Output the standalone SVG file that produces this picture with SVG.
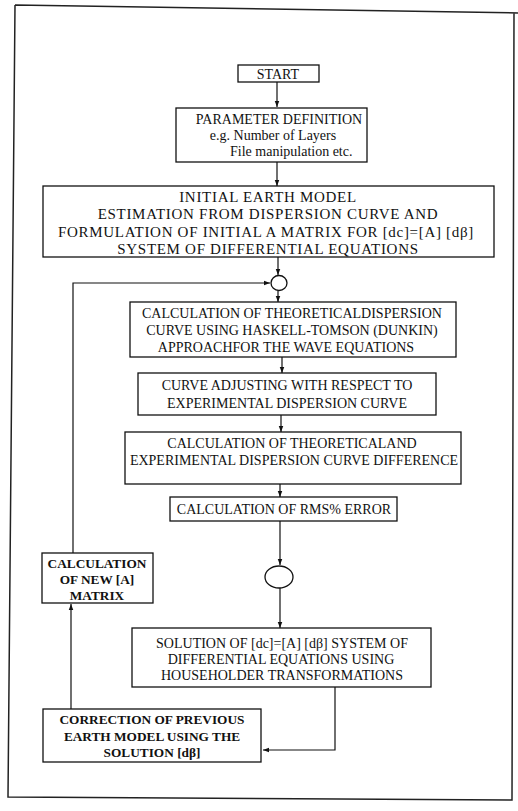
<svg xmlns="http://www.w3.org/2000/svg" width="518" height="811" viewBox="0 0 518 811">
<defs>
<marker id="ah" viewBox="0 0 8 8" refX="8" refY="4" markerWidth="6" markerHeight="6" orient="auto-start-reverse" markerUnits="userSpaceOnUse">
<path d="M0,1 L8,4 L0,7 Z" fill="#111"/>
</marker>
<style>
rect, ellipse { fill: #fff; stroke: #111; stroke-width: 1.3; }
.c { fill: none; stroke: #111; stroke-width: 1.2; }
text { font-family: "Liberation Serif", "Times New Roman", serif; font-size: 14px; fill: #111; text-anchor: middle; }
.big { font-size: 15px; letter-spacing: 0.7px; }
.b { font-weight: bold; font-size: 13.3px; }
.frame { fill: none; stroke: #222; stroke-width: 1.5; }
</style>
</defs>
<rect width="518" height="811" style="fill:#fff;stroke:none"/>
<path class="frame" d="M15,5 L518,13 M514,13 L512,800 L8,797 L15,5"/>

<g id="connectors">
<line class="c" x1="277" y1="82" x2="277" y2="107" marker-end="url(#ah)"/>
<line class="c" x1="277" y1="162" x2="277" y2="186" marker-end="url(#ah)"/>
<line class="c" x1="278" y1="257" x2="278" y2="275" marker-end="url(#ah)"/>
<line class="c" x1="278" y1="291" x2="278" y2="302" marker-end="url(#ah)"/>
<line class="c" x1="282" y1="357" x2="282" y2="373" marker-end="url(#ah)"/>
<line class="c" x1="281" y1="415" x2="281" y2="432" marker-end="url(#ah)"/>
<line class="c" x1="280" y1="484" x2="280" y2="497" marker-end="url(#ah)"/>
<line class="c" x1="280" y1="521" x2="280" y2="565" marker-end="url(#ah)"/>
<line class="c" x1="280" y1="588" x2="280" y2="628" marker-end="url(#ah)"/>
<polyline class="c" points="335,687 335,750 263,750" marker-end="url(#ah)"/>
<line class="c" x1="71" y1="709" x2="71" y2="604" marker-end="url(#ah)"/>
<polyline class="c" points="73,553 73,283 270,283" marker-end="url(#ah)"/>
</g>

<g id="start">
<rect x="238" y="65" width="81" height="17"/>
<text x="278" y="78.5">START</text>
</g>

<g id="param">
<rect x="176" y="108" width="191" height="54"/>
<text x="279" y="124">PARAMETER DEFINITION</text>
<text x="273" y="140">e.g. Number of Layers</text>
<text x="230" y="156" style="text-anchor:start">File manipulation etc.</text>
</g>

<g id="initial">
<rect x="43" y="186" width="451" height="71"/>
<text class="big" x="268" y="201.5">INITIAL EARTH MODEL</text>
<text class="big" x="268" y="219">ESTIMATION FROM DISPERSION CURVE AND</text>
<text class="big" x="266" y="236.5">FORMULATION OF INITIAL A MATRIX FOR [dc]=[A] [dβ]</text>
<text class="big" x="268" y="254">SYSTEM OF DIFFERENTIAL EQUATIONS</text>
</g>

<g id="merge1">
<ellipse cx="279" cy="283" rx="8" ry="7.5"/>
</g>

<g id="theoretical">
<rect x="130" y="302" width="326" height="55"/>
<text x="292" y="318">CALCULATION OF THEORETICALDISPERSION</text>
<text x="292" y="335">CURVE USING HASKELL-TOMSON (DUNKIN)</text>
<text x="286" y="352">APPROACHFOR THE WAVE EQUATIONS</text>
</g>

<g id="adjust">
<rect x="138" y="373" width="298" height="42"/>
<text x="287" y="390">CURVE ADJUSTING WITH RESPECT TO</text>
<text x="287" y="408">EXPERIMENTAL DISPERSION CURVE</text>
</g>

<g id="difference">
<rect x="125" y="432" width="336" height="52"/>
<text x="292" y="448">CALCULATION OF THEORETICALAND</text>
<text x="294" y="465">EXPERIMENTAL DISPERSION CURVE DIFFERENCE</text>
</g>

<g id="rms">
<rect x="170" y="497" width="227" height="24"/>
<text x="284" y="514">CALCULATION OF RMS% ERROR</text>
</g>

<g id="decision">
<ellipse cx="279" cy="577" rx="14" ry="11"/>
</g>

<g id="solution">
<rect x="132" y="628" width="299" height="59"/>
<text x="282" y="648">SOLUTION OF [dc]=[A] [dβ] SYSTEM OF</text>
<text x="281" y="664">DIFFERENTIAL EQUATIONS USING</text>
<text x="282" y="680">HOUSEHOLDER TRANSFORMATIONS</text>
</g>

<g id="newA">
<rect x="42" y="553" width="111" height="50"/>
<text class="b" x="97" y="568">CALCULATION</text>
<text class="b" x="97" y="584">OF NEW [A]</text>
<text class="b" x="97" y="600">MATRIX</text>
</g>

<g id="correction">
<rect x="43" y="709" width="218" height="53"/>
<text class="b" x="152" y="724">CORRECTION OF PREVIOUS</text>
<text class="b" x="152" y="741">EARTH MODEL USING THE</text>
<text class="b" x="152" y="757">SOLUTION [dβ]</text>
</g>
</svg>
